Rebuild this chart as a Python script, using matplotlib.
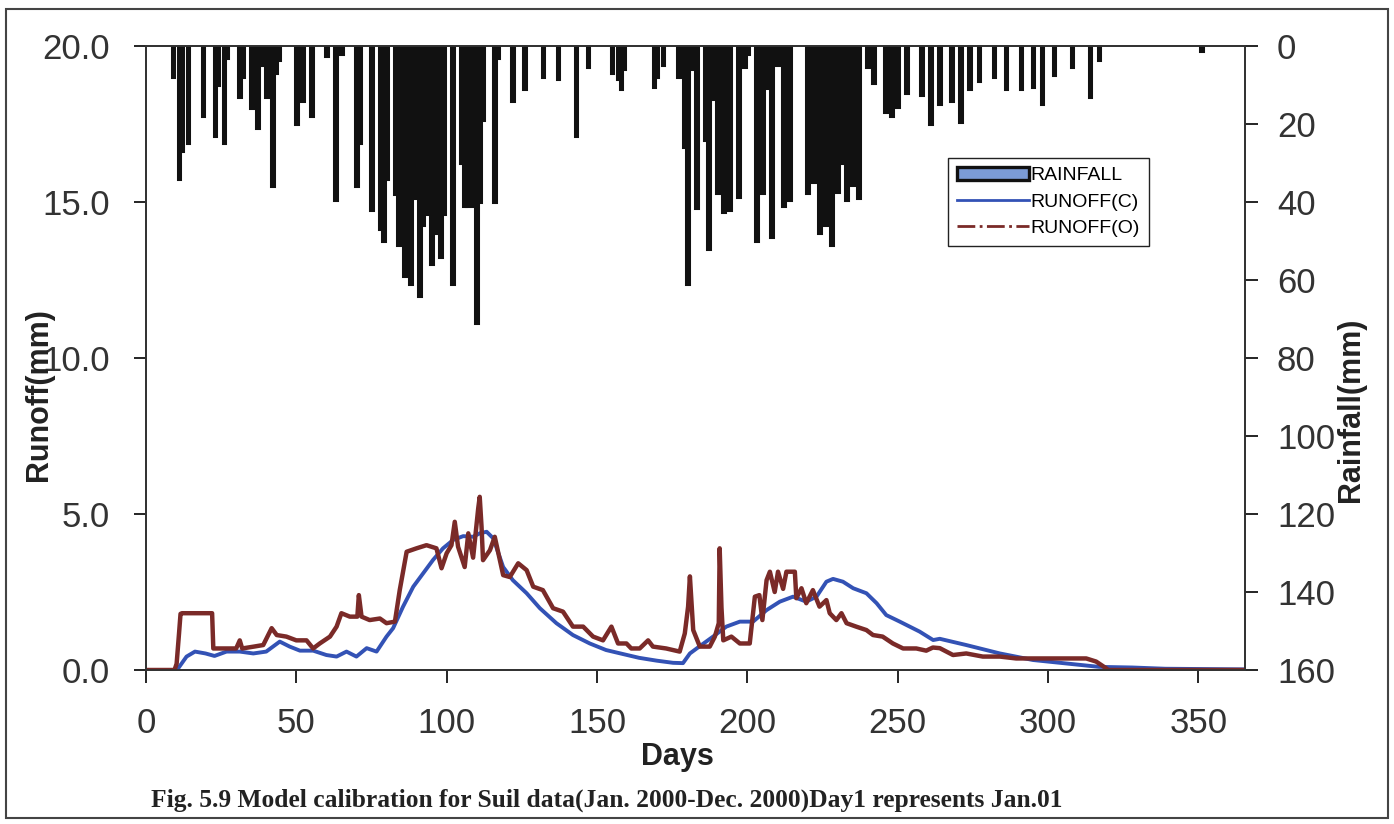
import matplotlib.pyplot as plt
from matplotlib.lines import Line2D
from matplotlib.patches import Patch, Rectangle

# daily rainfall (mm)
rain_day = [9, 11, 12, 14, 19, 23, 24, 26, 27, 31, 32, 35, 37, 39, 40, 42, 43, 44,
            50, 52, 55, 60, 63, 65, 70, 71, 75, 78, 79, 80, 83, 84, 86, 88, 89, 91,
            92, 93, 95, 96, 98, 99, 102, 105, 106, 107, 108, 109, 110, 111, 112, 116,
            117, 122, 126, 132, 137, 143, 147, 155, 157, 158, 159, 169, 170, 172, 177,
            179, 180, 181, 183, 186, 187, 189, 190, 192, 193, 194, 197, 199, 200, 203,
            205, 206, 208, 210, 212, 213, 214, 220, 222, 224, 225, 226, 228, 230, 231,
            233, 235, 237, 240, 242, 246, 248, 250, 253, 258, 261, 264, 268, 271, 274,
            277, 282, 286, 291, 295, 298, 302, 308, 314, 317, 351]
rain_mm = [8, 34, 27, 25, 18, 23, 10, 25, 3, 13, 8, 16, 21, 5, 13, 36, 7, 3.5,
           20, 14, 18, 2.5, 39.5, 2, 36, 25, 42, 47, 50, 34, 38, 51, 59, 61, 39, 64,
           46, 43, 56, 48, 54, 43, 61, 30, 41, 41, 40, 41, 71, 40, 19, 40,
           3, 14, 11, 8, 8.5, 23, 5.5, 7, 8.5, 11, 6, 10.5, 8, 5, 8,
           26, 61, 6, 41.6, 24, 52, 13.6, 37.7, 42.6, 38, 42, 38.7, 5.5, 2, 50,
           37.7, 10.8, 49, 5, 41, 36, 39.5, 37.7, 35, 48, 30, 46, 51, 37.4, 30,
           39.5, 35.6, 39, 5.5, 9.5, 17, 18, 15.6, 12, 12.5, 20, 15, 14, 19.5, 11,
           9, 8, 11, 11, 10.5, 15, 7.4, 5.3, 13, 3.6, 1.3]

# computed runoff
calc_day = [0, 9, 10.7, 13.5, 16.3, 19.8, 22.8, 26.8, 31.2, 35.7, 40, 44.5, 47.8,
            51.2, 55.6, 60, 63.4, 66.7, 70, 73.4, 76.7, 80, 82.2, 85.5, 88.9, 92.2,
            95.5, 98.8, 102.2, 105.5, 108.8, 111, 113.3, 115.5, 118.8, 122, 126.6,
            131, 136.5, 142, 147.6, 153, 158.7, 164, 169.8, 175.3, 178.6, 180.9, 184,
            188.6, 193, 197.5, 201.9, 206.4, 210.8, 215.2, 219.6, 223, 226.3, 228.5,
            231.8, 235.2, 239.6, 243, 246.2, 250.7, 257.3, 261.8, 264, 272.8, 284,
            295, 306, 317, 328, 339, 365]
calc_mm = [0, 0, 0.05, 0.43, 0.59, 0.53, 0.45, 0.59, 0.59, 0.53, 0.59, 0.91, 0.75,
           0.62, 0.62, 0.48, 0.43, 0.59, 0.43, 0.7, 0.59, 1.07, 1.34, 2.03, 2.67, 3.1,
           3.53, 3.9, 4.17, 4.29, 4.27, 4.38, 4.43, 4.22, 3.3, 2.88, 2.46,
           1.98, 1.5, 1.12, 0.85, 0.64, 0.51, 0.39, 0.3, 0.23, 0.22, 0.53, 0.75,
           1.07, 1.39, 1.55, 1.55, 1.92, 2.19, 2.35, 2.19, 2.35, 2.83, 2.92,
           2.83, 2.62, 2.46, 2.14, 1.76, 1.55, 1.23, 0.96, 1.0, 0.8, 0.53,
           0.32, 0.21, 0.1, 0.08, 0.04, 0.02]

# observed runoff
obs_day = [0, 9.5, 10.2, 11, 11.5, 12, 22, 22.4, 30, 31.2, 32, 35.9, 39, 41.8, 43.5,
           46.7, 50, 53.4, 55.6, 57.8, 61.2, 63.4, 65, 67.8, 70.3, 70.8, 71.7, 74.4,
           77.8, 80, 82.8, 84.4, 86.7, 90, 93.3, 96.6, 98.3, 100, 101.6, 102.7,
           103.8, 106, 107.2, 108.8, 110.5, 111, 111.6, 112.1, 114.4, 116, 118.8,
           121, 123.8, 126.6, 128.8, 132, 135.4, 138.7, 142, 145.4, 148.7, 152,
           154.8, 157, 159.8, 161.4, 164.2, 167, 168.6, 173, 177.5, 179.2, 180.3,
           180.9, 182, 184.2, 187.5, 189.2, 190.5, 190.8, 191.4, 192, 194.7, 197.5,
           200.8, 202.5, 204, 205, 206.4, 207.5, 209.1, 210.2, 211.9, 213, 215.8,
           216.3, 218, 219.6, 221.8, 224, 226.3, 227.4, 229.6, 231.3, 233, 236.2,
           239.6, 241.8, 245, 248.4, 251.8, 256.2, 259.5, 261.7, 264, 268.4, 272.8,
           278.3, 284, 289.4, 312.7, 316, 319.4, 320, 365]
obs_mm = [0, 0, 0.2, 1.17, 1.8, 1.82, 1.82, 0.69, 0.69, 0.95, 0.69, 0.75, 0.8, 1.34, 1.12,
          1.07, 0.95, 0.95, 0.69, 0.85, 1.07, 1.39, 1.82, 1.71, 1.71, 2.4, 1.71, 1.6,
          1.65, 1.5, 1.55, 2.56, 3.79, 3.9, 4.0, 3.9, 3.26, 3.74, 4.0, 4.75,
          3.95, 3.3, 4.38, 3.6, 5.18, 5.55, 4.6, 3.52, 3.84, 4.27, 3.04,
          2.98, 3.42, 3.2, 2.67, 2.56, 1.98, 1.87, 1.39, 1.39, 1.07, 0.95,
          1.39, 0.85, 0.85, 0.69, 0.69, 0.95, 0.75, 0.69, 0.59, 1.17, 2.03,
          3.0, 1.28, 0.75, 0.75, 1.07, 1.5, 3.9, 2.0, 0.95, 1.07, 0.85,
          0.85, 2.35, 2.4, 1.6, 2.88, 3.15, 2.5, 3.15, 2.6, 3.15, 3.15,
          2.3, 2.62, 2.14, 2.56, 2.03, 2.24, 1.82, 1.6, 1.82, 1.5, 1.39,
          1.28, 1.12, 1.07, 0.85, 0.69, 0.69, 0.62, 0.72, 0.7, 0.48, 0.53,
          0.43, 0.43, 0.37, 0.37, 0.27, 0.05, 0, 0]

plt.rcParams['font.family'] = ['Liberation Sans', 'DejaVu Sans']

fig = plt.figure(figsize=(13.94, 8.24), dpi=100)
ax = fig.add_axes([0.1047, 0.1869, 0.7884, 0.7573])

blue = '#3352b5'
brown = '#7a2a28'
ax.plot(calc_day, calc_mm, color=blue, lw=2.8, zorder=3)
ax.plot(obs_day, obs_mm, color=brown, lw=3.2, zorder=4)

ax.set_xlim(0, 365.5)
ax.set_ylim(0, 20)
ax.set_xticks(range(0, 351, 50))
ax.set_yticks([0, 5, 10, 15, 20])
ax.set_yticklabels(['0.0', '5.0', '10.0', '15.0', '20.0'])
ax.tick_params(axis='y', direction='out', length=9, width=1.2, pad=17,
               labelsize=25, labelcolor='#333333')
ax.tick_params(axis='x', direction='out', length=9, width=1.2, pad=18,
               labelsize=25, labelcolor='#333333')
for s in ax.spines.values():
    s.set_linewidth(1.3)
    s.set_color('#333333')

ax2 = ax.twinx()
ax2.bar(rain_day, rain_mm, width=0.9, color='#7b9bd6', edgecolor='#111111',
        linewidth=2.2)
ax2.set_ylim(160, 0)
ax2.set_yticks(range(0, 161, 20))
ax2.tick_params(axis='y', direction='out', length=9, width=1.2, pad=14,
                labelsize=25, labelcolor='#333333')
for s in ax2.spines.values():
    s.set_linewidth(1.3)
    s.set_color('#333333')

fig.text(0.028, 1 - 395 / 824, 'Runoff(mm)', rotation=90, ha='center', va='center',
         fontsize=22, fontweight='bold', color='#222222')
fig.text(0.969, 1 - 410 / 824, 'Rainfall(mm)', rotation=90, ha='center', va='center',
         fontsize=22, fontweight='bold', color='#222222')
fig.text(677 / 1394, 1 - 757 / 824, 'Days', ha='center', va='center',
         fontsize=22, fontweight='bold', color='#222222')
fig.text(0.108, 1 - 800 / 824,
         'Fig. 5.9 Model calibration for Suil data(Jan. 2000-Dec. 2000)Day1 represents Jan.01',
         ha='left', va='center', fontsize=18.4, fontweight='bold',
         family='Liberation Serif', color='#222222')

handles = [Patch(facecolor='#7b9bd6', edgecolor='#111111', linewidth=2.4),
           Line2D([], [], color=blue, lw=2),
           Line2D([], [], color=brown, lw=2, linestyle='-.')]
fig.legend(handles, ['RAINFALL', 'RUNOFF(C)', 'RUNOFF(O)'],
           loc='upper left', bbox_to_anchor=(948 / 1394, 1 - 158 / 824),
           borderaxespad=0, frameon=True, fancybox=False, edgecolor='#222222',
           framealpha=1, handlelength=3.7, handletextpad=0.1, borderpad=0.45,
           labelspacing=0.45, prop={'family': 'Liberation Sans', 'size': 14})

fig.patches.append(Rectangle((0.004, 0.007), 0.992, 0.982, transform=fig.transFigure,
                             fill=False, edgecolor='#444444', lw=1.5))

fig.savefig('out.png', dpi=100)
